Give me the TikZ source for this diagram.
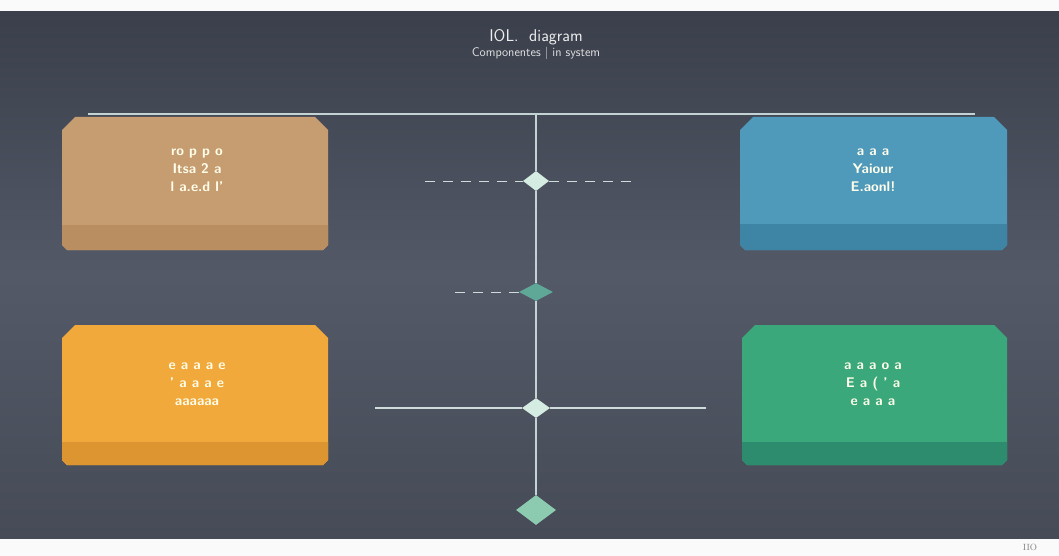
\documentclass[tikz,border=0pt]{standalone}
\usetikzlibrary{shapes.geometric}
\definecolor{bgtop}{HTML}{3A3F4B}
\definecolor{bgmid}{HTML}{545968}
\definecolor{bgbot}{HTML}{464B57}
\definecolor{linec}{HTML}{C3D3D3}
\definecolor{tanM}{HTML}{C69D70}
\definecolor{tanB}{HTML}{B98F62}
\definecolor{bluM}{HTML}{4F9ABB}
\definecolor{bluB}{HTML}{3E84A5}
\definecolor{oraM}{HTML}{F2A93C}
\definecolor{oraB}{HTML}{DC9531}
\definecolor{grnM}{HTML}{3BA87B}
\definecolor{grnB}{HTML}{2E8C6E}
\definecolor{mint}{HTML}{D4ECE1}
\definecolor{teal}{HTML}{5FA898}
\definecolor{mintD}{HTML}{8CCBB0}
\newcommand\cardbox[7]{%
  \fill[#5] (#1,#2+13) -- (#1+13,#2) -- (#3-13,#2) -- (#3,#2+13) -- (#3,#4-5) -- (#3-5,#4) -- (#1+5,#4) -- (#1,#4-5) -- cycle;
  \fill[#6] (#1,#7) -- (#3,#7) -- (#3,#4-5) -- (#3-5,#4) -- (#1+5,#4) -- (#1,#4-5) -- cycle;
}
\tikzset{
  boxtext/.style={text=white!92!yellow, align=center, font=\fontsize{14}{18}\selectfont\sffamily\bfseries},
  dia/.style={diamond, draw=none, inner sep=0pt, aspect=1.3},
  tick/.style={draw=linec!80, line width=0.9pt},
}
\begin{document}
\begin{tikzpicture}[x=1pt,y=-1pt]
\useasboundingbox (0,0) rectangle (1059,556);
\fill[white!96!gray] (0,0) rectangle (1059,556);
\shade[top color=bgtop, bottom color=bgbot, middle color=bgmid] (0,12) rectangle (1059,538);
% title
\node[text=white!85!gray, font=\fontsize{17}{18}\selectfont\sffamily] (title) at (536,37) {IOL.\ \ diagram};
\node[text=white!78!gray, font=\fontsize{12.5}{14}\selectfont\sffamily] (subtitle) at (536,53) {Componentes | in system};
% top line
\coordinate (hl) at (88,114);
\coordinate (hr) at (975,114);
\draw[linec, line width=1.4pt] (hl) -- (hr);
% boxes
\cardbox{62}{117}{328}{250}{tanM}{tanB}{225}
\cardbox{740}{117}{1007}{250}{bluM}{bluB}{224}
\cardbox{62}{325}{328}{465}{oraM}{oraB}{442}
\cardbox{742}{325}{1007}{465}{grnM}{grnB}{442}
\node[boxtext] (t1) at (197,170) {ro p p o\\ Itsa 2 a\\ l a.e.d l'};
\node[boxtext] (t2) at (873,170) {a a a\\ Yaiour\\ E.aonl!};
\node[boxtext] (t3) at (197,384) {e a a a e\\ ' a a a e\\ aaaaaa};
\node[boxtext] (t4) at (873,384) {a a a o a\\ E a ( ' a\\ e a a a};
% timeline
\coordinate (vtop) at (536,114);
\node[dia, fill=mint, minimum width=26pt, minimum height=20pt] (d1) at (536,181) {};
\node[dia, fill=teal, minimum width=34pt, minimum height=18pt] (d2) at (536,292) {};
\node[dia, fill=mint, minimum width=28pt, minimum height=20pt] (d3) at (536,408) {};
\node[dia, fill=mintD, minimum width=40pt, minimum height=30pt] (d4) at (536,510) {};
\begin{scope}[on background layer/.style={}]
\end{scope}
\draw[linec, line width=2pt] (vtop) -- (d1.north);
\draw[linec, line width=2pt] (d1.south) -- (d2.north);
\draw[linec, line width=2pt] (d2.south) -- (d3.north);
\draw[linec, line width=2pt] (d3.south) -- (d4.north);
\coordinate (l1) at (425,181); \coordinate (r1) at (632,181);
\coordinate (l2) at (455,292);
\coordinate (l3) at (375,408); \coordinate (r3) at (706,408);
\draw[tick, dashed, dash pattern=on 10pt off 8pt] (l1) -- (d1.west);
\draw[tick, dashed, dash pattern=on 10pt off 8pt] (d1.east) -- (r1);
\draw[tick, dashed, dash pattern=on 10pt off 8pt] (l2) -- (d2.west);
\draw[tick, line width=1.2pt] (l3) -- (d3.west);
\draw[tick, line width=1.2pt] (d3.east) -- (r3);
% corner label
\node[text=gray, font=\fontsize{9}{10}\selectfont] (pg) at (1030,547) {IIO};
\end{tikzpicture}
\end{document}
